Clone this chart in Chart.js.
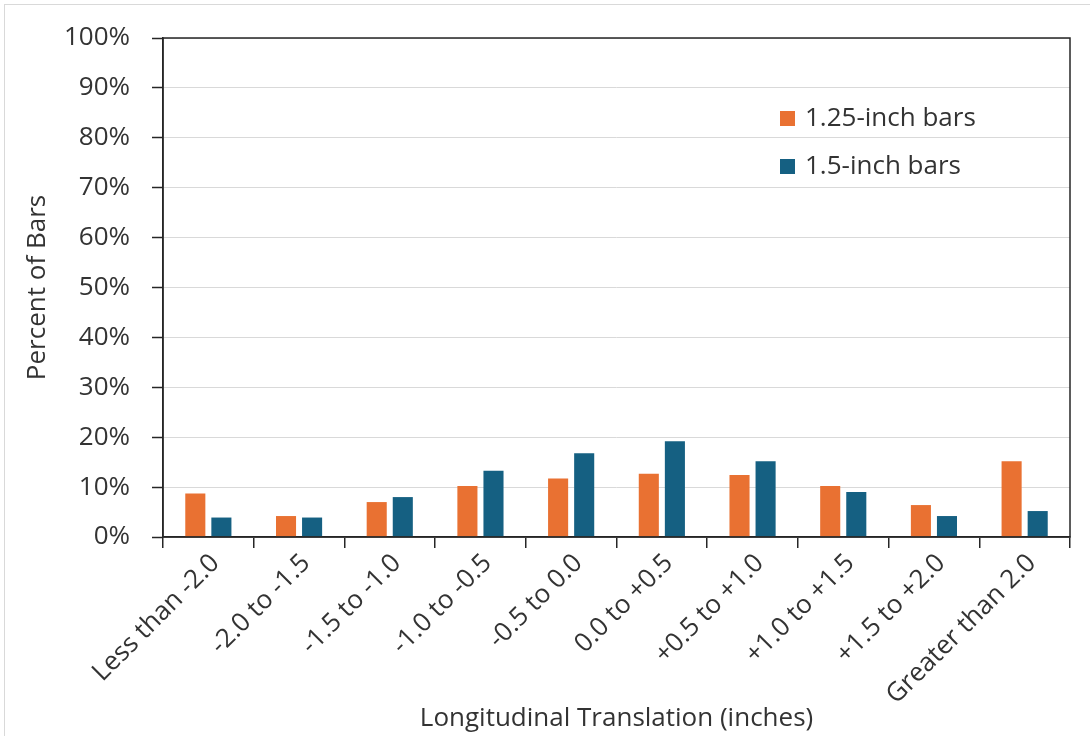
<!DOCTYPE html>
<html>
<head>
<meta charset="utf-8">
<script src="https://cdn.jsdelivr.net/npm/chart.js@4"></script>
<style>
  html, body { margin: 0; padding: 0; background: #fff; }
  #wrap { position: relative; width: 1090px; height: 736px; }
  #frame { position: absolute; left: 4px; top: 4px; width: 1090px; height: 740px; border: 1px solid #d9d9d9; box-sizing: border-box; }
</style>
</head>
<body>
<div id="wrap">
  <div id="frame"></div>
  <canvas id="chart" width="1090" height="736"></canvas>
</div>
<script>
// data
const categories = ['Less than -2.0', '-2.0 to -1.5', '-1.5 to -1.0', '-1.0 to -0.5', '-0.5 to 0.0',
  '0.0 to +0.5', '+0.5 to +1.0', '+1.0 to +1.5', '+1.5 to +2.0', 'Greater than 2.0'];
const bars125 = [8.7, 4.2, 7.0, 10.2, 11.7, 12.7, 12.4, 10.2, 6.4, 15.2];
const bars15 = [3.9, 3.9, 8.0, 13.3, 16.8, 19.2, 15.2, 9.0, 4.2, 5.2];
const seriesNames = ['1.25-inch bars', '1.5-inch bars'];
const yTicks = [0, 10, 20, 30, 40, 50, 60, 70, 80, 90, 100];

const FONT = "'Open Sans', 'Noto Sans', sans-serif";
const TEXT = '#333333';

// box around the plot area + legend inside it (top right)
const plotExtras = {
  id: 'plotExtras',
  afterDatasetsDraw(chart) {
    const ctx = chart.ctx;
    const a = chart.chartArea;
    ctx.save();
    ctx.strokeStyle = '#262626';
    ctx.lineWidth = 1.5;
    ctx.strokeRect(a.left, a.top, a.right - a.left, a.bottom - a.top);

    ctx.font = '26px ' + FONT;
    ctx.textBaseline = 'middle';
    ctx.textAlign = 'left';
    chart.data.datasets.forEach((ds, i) => {
      const x = a.left + 617;
      const y = a.top + 81 + i * 48;
      ctx.fillStyle = ds.backgroundColor;
      ctx.fillRect(x, y - 8, 15, 15);
      ctx.fillStyle = TEXT;
      ctx.fillText(ds.label, x + 25, y);
    });
    ctx.restore();
  }
};

new Chart(document.getElementById('chart'), {
  type: 'bar',
  data: {
    labels: categories,
    datasets: [
      { label: seriesNames[0], data: bars125, backgroundColor: '#E97132' },
      { label: seriesNames[1], data: bars15, backgroundColor: '#156082' }
    ]
  },
  options: {
    responsive: false,
    animation: false,
    categoryPercentage: 0.575,
    barPercentage: 0.77,
    layout: { padding: { left: 10, top: 38, right: 20, bottom: 2 } },
    plugins: {
      legend: { display: false },
      tooltip: { enabled: false }
    },
    scales: {
      x: {
        grid: { display: true, drawOnChartArea: false, drawTicks: true, tickLength: 11, color: '#262626', lineWidth: 1.5, offset: true },
        border: { display: true, color: '#262626', width: 1.5 },
        ticks: { color: TEXT, font: { family: FONT, size: 26 }, maxRotation: 45, minRotation: 45, padding: 0, labelOffset: 7 },
        title: { display: true, text: 'Longitudinal Translation (inches)', color: TEXT, font: { family: FONT, size: 26 }, padding: { top: 0, bottom: 0 } },
        afterFit(scale) { scale.height = 197; }
      },
      y: {
        min: 0,
        max: 100,
        afterBuildTicks(scale) { scale.ticks = yTicks.map(v => ({ value: v })); },
        grid: {
          color: '#d9d9d9', lineWidth: 1, tickLength: 11,
          tickColor: '#262626', tickWidth: 1.5
        },
        border: { display: true, color: '#262626', width: 1.5 },
        ticks: { color: TEXT, font: { family: FONT, size: 26 }, padding: 22, callback: v => v + '%' },
        title: { display: true, text: 'Percent of Bars', color: TEXT, font: { family: FONT, size: 26 }, padding: { top: 12, bottom: 0 } },
        afterFit(scale) { scale.width = 153; }
      }
    }
  },
  plugins: [plotExtras]
});
</script>
</body>
</html>
